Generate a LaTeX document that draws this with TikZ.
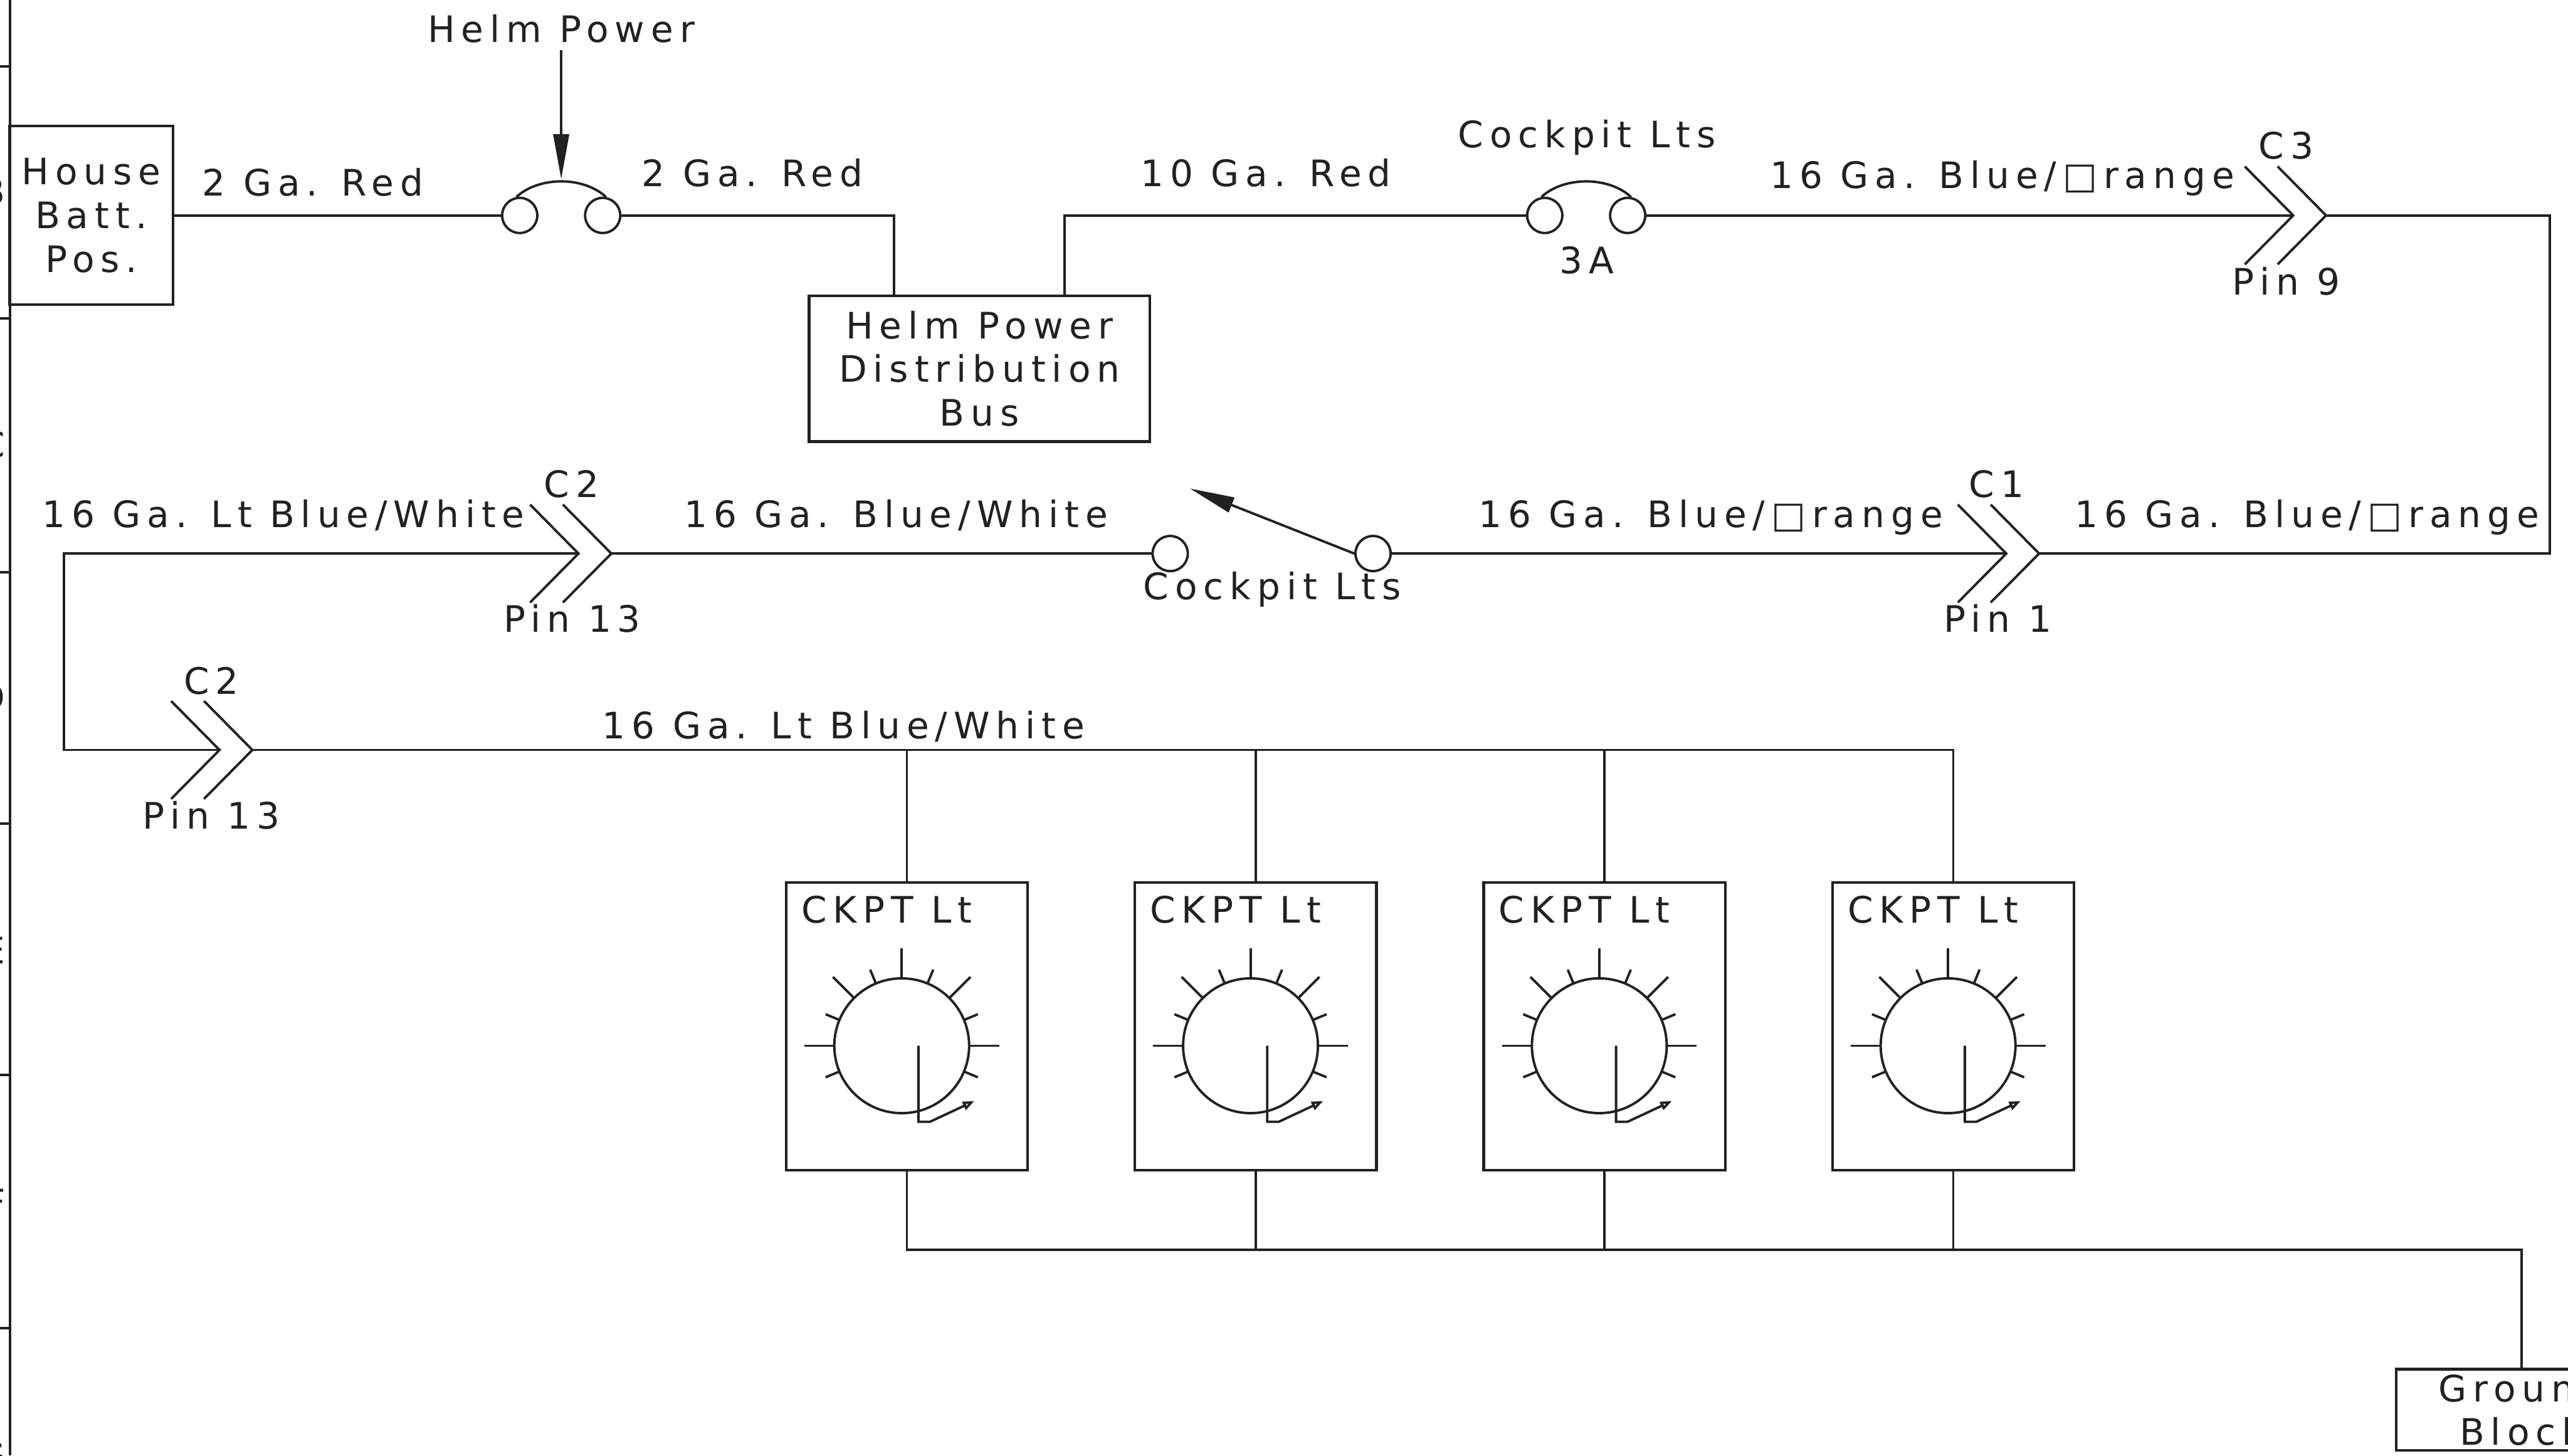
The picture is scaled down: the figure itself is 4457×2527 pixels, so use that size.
\documentclass[tikz,border=0pt]{standalone}
\usepackage{fontspec}
\newfontfamily\cadfont[LetterSpace=17]{DejaVu Sans}
\usepackage{tikz}
\usetikzlibrary{arrows.meta,
                positioning}
\definecolor{cadink}{gray}{0.13}
\tikzset{wire/.style =
   {draw,
    cadink,
    line width=1.2pt}}
\tikzset{arrow/.style =
   {wire,
    -{Triangle[length=0.78cm,width=0.27cm]}}}
\tikzset{block/.style =
   {rectangle,
    draw,
    cadink,
    line width=1.3pt,
    align=center,
    inner sep=0pt,
    text=cadink,
    font=\cadfont\fontsize{18}{21.6}\selectfont}}
\tikzset{caption/.style =
   {inner sep=0pt,
    text height=13pt,
    text depth=0pt,
    text=cadink,
    font=\cadfont\fontsize{18}{21.6}\selectfont}}
\tikzset{terminal/.style =
   {circle,
    draw,
    cadink,
    line width=1.2pt,
    inner sep=0pt,
    minimum size=0.61cm}}
\tikzset{lamp/.style =
   {block,
    minimum width=4.19cm,
    minimum height=4.99cm}}

\newcommand{\fuse}[3]{
    \node [terminal] (#1-a) at (#2-72,#3) {};
    \node [terminal] (#1-b) at (#2+72,#3) {};
    \draw [wire] (#1-a.100) .. controls +(39,-36) and +(-39,-36) .. (#1-b.80);
}
\newcommand{\plug}[3]{
    \coordinate (#1-in) at (#2,#3);
    \coordinate (#1-out) at (#2+57,#3);
    \draw [wire] (#2-84,#3-85) -- (#1-in) -- (#2-84,#3+85);
    \draw [wire] (#2-27,#3-85) -- (#1-out) -- (#2-27,#3+85);
}
\newcommand{\dial}[1]{
    \node [caption, anchor=center] at ([xshift=-0.35cm,yshift=2.02cm]#1.center) {CKPT Lt};
    \begin{scope}[shift={(#1.center)}]
        \begin{scope}[shift={(-9,34)}]
            \draw [wire] (0,0) circle [radius=117];
            \foreach \ang in {0,-45,-90,-135,-180}
                \draw [wire] (\ang:117) -- (\ang:169);
            \foreach \ang in {22.5,-22.5,-67.5,-112.5,-157.5,-202.5}
                \draw [wire] (\ang:117) -- (\ang:143);
        \end{scope}
        \draw [wire, -{Triangle[open,length=0.2cm,width=0.15cm]}]
            (20,34) -- (20,166) -- (40,166) -- (117,130);
    \end{scope}
}

\begin{document}
\begin{tikzpicture}[x=0.01cm,y=-0.01cm]

    \useasboundingbox (0,0) rectangle (4457,2527);
    \clip (0,0) rectangle (4457,2527);

    \draw [wire] (17,0) -- (17,2527);
    \foreach \tick in {115,553,993,1430,1866,2306}
        \draw [wire] (0,\tick) -- (17,\tick);
    \foreach \row/\zone in {332/B,772/C,1210/D,1650/E,2088/F,2527/G}
        \node [caption, anchor=east] at (10,\row) {\zone};

    \node [block,
           minimum width=2.83cm,
           minimum height=3.1cm] (housebatt) at (158.5,374) {House\\Batt.\\Pos.};

    \node [block,
           minimum width=5.91cm,
           minimum height=2.53cm] (bus) at (1700,640) {Helm Power\\Distribution\\Bus};

    \node [block,
           minimum width=4.34cm,
           minimum height=1.41cm] (groundblock) at (4376,2447.5) {Ground\\Block};

    \fuse{helmfuse}{974}{374}
    \fuse{ckptfuse}{2753}{374}

    \node [terminal] (switch-a) at (2031,961) {};
    \node [terminal] (switch-b) at (2383,961) {};

    \plug{c3}{3980}{374}
    \plug{c1}{3482}{961}
    \plug{c2a}{1004}{961}
    \plug{c2b}{381}{1302}

    \node [lamp] (ckpt0) at (1574,1781.5) {};
    \node [lamp,
           right of = ckpt0,
           node distance = 6.05cm] (ckpt1) {};
    \node [lamp,
           right of = ckpt1,
           node distance = 6.05cm] (ckpt2) {};
    \node [lamp,
           right of = ckpt2,
           node distance = 6.05cm] (ckpt3) {};

    \dial{ckpt0}
    \dial{ckpt1}
    \dial{ckpt2}
    \dial{ckpt3}

    \coordinate (helmtip) at (974,311);
    \coordinate (busin) at (1552,512);
    \coordinate (busout) at (1848,512);
    \coordinate (cornere) at (4425,961);
    \coordinate (cornerw) at (111,1302);
    \coordinate (gndcorner) at (4376,2170);
    \coordinate (switchtip) at (2065,848);

    \node [caption] (helmpower) at (974,51) {Helm Power};
    \node [caption] at (543,317) {2 Ga. Red};
    \node [caption] at (1306,301) {2 Ga. Red};
    \node [caption] at (2197,301) {10 Ga. Red};
    \node [caption] at (2754,233) {Cockpit Lts};
    \node [caption] at (2754,452) {3A};
    \node [caption] at (3475,304) {16 Ga. Blue/□range};
    \node [caption] at (3968,253) {C3};
    \node [caption] at (3968,489) {Pin 9};
    \node [caption] at (4004,893) {16 Ga. Blue/□range};
    \node [caption] at (2969,893) {16 Ga. Blue/□range};
    \node [caption] at (3465,841) {C1};
    \node [caption] at (3467,1074) {Pin 1};
    \node [caption] at (2208,1018) {Cockpit Lts};
    \node [caption] at (1555,893) {16 Ga. Blue/White};
    \node [caption] at (492,893) {16 Ga. Lt Blue/White};
    \node [caption] at (992,841) {C2};
    \node [caption] at (993,1074) {Pin 13};
    \node [caption] at (367,1182) {C2};
    \node [caption] at (367,1416) {Pin 13};
    \node [caption] at (1464,1259) {16 Ga. Lt Blue/White};

    \draw [arrow, shorten <=0.13cm] (helmpower.south) -- (helmtip);
    \draw [arrow] (switch-b.180) -- (switchtip);

    \draw [wire] (housebatt) -- (helmfuse-a);
    \draw [wire] (helmfuse-b) -| (busin);
    \draw [wire] (busout) |- (ckptfuse-a);
    \draw [wire] (ckptfuse-b) -- (c3-in);
    \draw [wire] (c3-out) -| (cornere) -- (c1-out);
    \draw [wire] (c1-in) -- (switch-b);
    \draw [wire] (switch-a) -- (c2a-out);
    \draw [wire] (c2a-in) -| (cornerw) -- (c2b-in);
    \draw [wire] (c2b-out) -| (ckpt3.north);
    \draw [wire] (ckpt0.north) -- (ckpt0.north |- c2b-out);
    \draw [wire] (ckpt1.north) -- (ckpt1.north |- c2b-out);
    \draw [wire] (ckpt2.north) -- (ckpt2.north |- c2b-out);
    \draw [wire] (ckpt0.south) |- (gndcorner) -- (groundblock.north);
    \draw [wire] (ckpt1.south) -- (ckpt1.south |- gndcorner);
    \draw [wire] (ckpt2.south) -- (ckpt2.south |- gndcorner);
    \draw [wire] (ckpt3.south) -- (ckpt3.south |- gndcorner);

\end{tikzpicture}
\end{document}
